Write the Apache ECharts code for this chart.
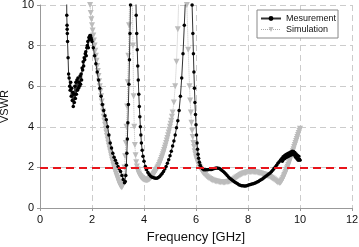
<!DOCTYPE html>
<html>
<head>
<meta charset="utf-8">
<script src="https://cdn.jsdelivr.net/npm/echarts@6/dist/echarts.min.js"></script>
<style>html,body{margin:0;padding:0;background:#fff}#c{width:359px;height:247px}</style>
</head>
<body>
<div id="c"></div>
<script>
// ---- data ----
var xTicks = [0, 2, 4, 6, 8, 10, 12];
var yTicks = [0, 2, 4, 6, 8, 10];
var threshold = 2;
var seriesNames = ['Mesurement', 'Simulation'];

var measFreq = [1.02,1.03,1.04,1.045,1.05,1.06,1.08,1.10,1.12,1.14,1.16,1.18,1.20,1.22,1.24,1.26,1.28,1.30,1.32,1.34,1.36,1.38,1.40,1.42,1.44,1.46,1.48,1.50,1.52,1.54,1.56,1.58,1.60,1.62,1.64,1.66,1.68,1.70,1.72,1.74,1.76,1.78,1.80,1.82,1.84,1.86,1.88,1.90,1.92,1.94,1.96,1.98,2.00,2.05,2.10,2.15,2.20,2.25,2.30,2.35,2.40,2.45,2.50,2.55,2.60,2.65,2.70,2.75,2.80,2.85,2.90,2.95,3.00,3.05,3.10,3.15,3.20,3.25,3.28,3.30,3.32,3.34,3.36,3.38,3.40,3.42,3.44,3.46,3.48,3.50,3.60,3.68,3.70,3.72,3.74,3.76,3.78,3.80,3.82,3.84,3.86,3.88,3.90,3.93,3.96,4.00,4.05,4.10,4.15,4.20,4.25,4.30,4.35,4.40,4.45,4.50,4.55,4.60,4.65,4.70,4.75,4.80,4.85,4.90,4.95,5.00,5.05,5.10,5.15,5.20,5.25,5.30,5.35,5.40,5.45,5.50,5.55,5.60,5.70,5.82,5.85,5.88,5.90,5.92,5.94,5.96,5.98,6.00,6.02,6.04,6.06,6.08,6.10,6.13,6.16,6.20,6.25,6.30,6.35,6.40,6.45,6.50,6.55,6.60,6.65,6.70,6.75,6.80,6.85,6.90,6.95,7.00,7.05,7.10,7.15,7.20,7.25,7.30,7.35,7.40,7.45,7.50,7.55,7.60,7.65,7.70,7.75,7.80,7.85,7.90,7.95,8.00,8.05,8.10,8.15,8.20,8.25,8.30,8.35,8.40,8.45,8.50,8.55,8.60,8.65,8.70,8.75,8.80,8.85,8.90,8.95,9.00,9.05,9.10,9.15,9.20,9.25,9.30,9.32,9.35,9.38,9.40,9.43,9.45,9.48,9.50,9.53,9.55,9.58,9.60,9.63,9.65,9.68,9.70,9.73,9.75,9.78,9.80,9.83,9.85,9.88,9.90,9.93,9.95,9.98,10.00];
var measVswr = [12,9.5,9.0,8.8,8.6,8.2,7.4,6.6,6.4,6.0,5.8,6.2,5.5,5.9,5.3,5.7,5.0,5.6,5.2,6.0,5.4,6.2,5.6,6.3,5.8,6.4,5.9,6.2,6.0,6.5,6.1,6.6,6.3,6.9,6.8,7.2,7.0,7.4,7.3,7.6,7.7,7.5,7.9,8.0,8.2,7.9,8.4,8.3,8.5,8.5,8.4,8.3,8.2,7.9,7.5,7.1,6.7,6.3,5.9,5.5,5.1,4.8,4.55,4.35,4.0,3.6,3.2,2.95,2.7,2.5,2.35,2.2,2.05,1.92,1.8,1.6,1.4,1.25,1.3,1.6,2.1,2.7,3.4,4.2,5.1,6.1,7.3,8.6,10.0,11.5,13,11,9.5,8.6,7.8,7.0,6.3,5.6,5.0,4.5,4.0,3.6,3.2,2.85,2.55,2.3,2.05,1.88,1.75,1.65,1.58,1.53,1.5,1.48,1.47,1.47,1.5,1.55,1.62,1.7,1.8,1.92,2.05,2.2,2.38,2.58,2.8,3.05,3.3,3.6,3.95,4.3,4.8,5.5,6.4,7.6,9.0,10.5,13,11,10.0,8.6,7.6,6.7,5.9,5.2,4.6,4.1,3.6,3.2,2.9,2.65,2.45,2.25,2.1,2.0,1.93,1.89,1.88,1.88,1.89,1.9,1.9,1.9,1.92,1.94,1.96,1.97,1.96,1.94,1.9,1.85,1.8,1.74,1.67,1.6,1.53,1.47,1.42,1.37,1.32,1.27,1.23,1.19,1.15,1.12,1.1,1.09,1.08,1.08,1.1,1.12,1.14,1.16,1.18,1.2,1.22,1.25,1.28,1.31,1.35,1.39,1.43,1.48,1.53,1.58,1.63,1.68,1.73,1.79,1.86,1.94,2.02,2.1,2.2,2.28,2.36,2.44,2.3,2.52,2.4,2.58,2.45,2.62,2.5,2.66,2.52,2.7,2.56,2.72,2.6,2.76,2.62,2.8,2.66,2.78,2.6,2.74,2.5,2.66,2.42,2.6,2.35,2.55,2.4,2.35];

var simFreq = [1.85,1.875,1.90,1.925,1.95,1.975,2.00,2.025,2.05,2.075,2.10,2.125,2.15,2.175,2.20,2.225,2.25,2.275,2.30,2.325,2.35,2.375,2.40,2.425,2.45,2.475,2.50,2.525,2.55,2.575,2.60,2.625,2.65,2.675,2.70,2.725,2.75,2.775,2.80,2.825,2.85,2.875,2.90,2.925,2.95,2.975,3.00,3.025,3.05,3.075,3.10,3.125,3.15,3.175,3.20,3.225,3.25,3.275,3.30,3.325,3.35,3.375,3.40,3.425,3.45,3.50,3.55,3.575,3.60,3.625,3.65,3.675,3.70,3.725,3.75,3.775,3.80,3.825,3.85,3.875,3.90,3.925,3.95,3.975,4.00,4.025,4.05,4.075,4.10,4.125,4.15,4.175,4.20,4.225,4.25,4.275,4.30,4.325,4.35,4.375,4.40,4.425,4.45,4.475,4.50,4.525,4.55,4.575,4.60,4.625,4.65,4.675,4.70,4.725,4.75,4.775,4.80,4.825,4.85,4.875,4.90,4.925,4.95,4.975,5.00,5.025,5.05,5.075,5.10,5.15,5.20,5.25,5.30,5.35,5.40,5.60,5.65,5.70,5.75,5.775,5.80,5.825,5.85,5.875,5.90,5.925,5.95,5.975,6.00,6.025,6.05,6.075,6.10,6.125,6.15,6.175,6.20,6.225,6.25,6.275,6.30,6.35,6.40,6.45,6.50,6.55,6.60,6.65,6.70,6.75,6.80,6.85,6.90,6.95,7.00,7.05,7.10,7.15,7.20,7.25,7.30,7.35,7.40,7.45,7.50,7.55,7.60,7.65,7.70,7.75,7.80,7.85,7.90,7.95,8.00,8.05,8.10,8.15,8.20,8.25,8.30,8.35,8.40,8.45,8.50,8.55,8.60,8.65,8.70,8.75,8.80,8.85,8.90,8.95,9.00,9.05,9.10,9.15,9.20,9.225,9.25,9.275,9.30,9.325,9.35,9.375,9.40,9.425,9.45,9.475,9.50,9.525,9.55,9.575,9.60,9.625,9.65,9.675,9.70,9.725,9.75,9.775,9.80,9.825,9.85,9.875,9.90,9.925,9.95,9.975,10.00];
var simVswr = [12,11.2,10.5,10.0,9.6,9.3,9.0,8.75,8.5,8.25,8.0,7.75,7.5,7.25,7.0,6.75,6.5,6.25,6.0,5.75,5.5,5.25,5.0,4.75,4.5,4.3,4.1,3.9,3.72,3.55,3.38,3.22,3.07,2.92,2.78,2.64,2.5,2.37,2.25,2.12,2.0,1.89,1.78,1.68,1.58,1.49,1.4,1.31,1.22,1.15,1.08,1.04,1.02,1.08,1.25,1.55,2.0,2.55,3.2,4.0,5.0,6.2,7.5,9.0,10.5,13,11,8.0,5.5,4.0,3.1,2.6,2.25,2.05,1.9,1.8,1.7,1.64,1.58,1.54,1.5,1.47,1.44,1.42,1.4,1.39,1.38,1.375,1.37,1.375,1.38,1.4,1.42,1.45,1.48,1.51,1.55,1.59,1.63,1.67,1.72,1.77,1.82,1.87,1.93,1.99,2.05,2.12,2.2,2.28,2.37,2.46,2.55,2.65,2.75,2.86,2.97,3.08,3.2,3.32,3.45,3.58,3.72,3.86,4.0,4.15,4.3,4.5,4.7,5.2,6.0,7.2,8.8,10.8,13,13,10.0,7.8,6.0,5.3,4.7,4.2,3.8,3.5,3.2,3.0,2.8,2.65,2.5,2.4,2.3,2.2,2.12,2.06,2.0,1.94,1.88,1.83,1.78,1.74,1.7,1.63,1.57,1.52,1.47,1.43,1.39,1.36,1.34,1.32,1.3,1.29,1.28,1.27,1.27,1.26,1.26,1.27,1.28,1.29,1.31,1.34,1.37,1.41,1.45,1.5,1.54,1.58,1.62,1.66,1.69,1.71,1.73,1.75,1.76,1.77,1.77,1.77,1.77,1.77,1.76,1.75,1.74,1.72,1.7,1.68,1.66,1.64,1.62,1.59,1.56,1.53,1.49,1.45,1.4,1.35,1.3,1.26,1.24,1.24,1.26,1.3,1.35,1.41,1.48,1.55,1.62,1.7,1.78,1.86,1.95,2.03,2.12,2.21,2.3,2.4,2.5,2.6,2.7,2.8,2.9,3.0,3.1,3.2,3.3,3.4,3.5,3.6,3.7,3.8,3.9];

// ---- chart ----
function pairs(xs, ys) { return xs.map(function (x, i) { return [x, ys[i]]; }); }

var chart = echarts.init(document.getElementById('c'), null, { renderer: 'canvas' });
var font = 'Liberation Sans, Arial, sans-serif';
chart.setOption({
  animation: false,
  backgroundColor: '#fff',
  textStyle: { fontFamily: font },
  grid: { left: 40, right: 7, top: 5, bottom: 39, containLabel: false, outerBoundsMode: 'none' },
  legend: {
    left: 257, top: 10, orient: 'vertical',
    backgroundColor: '#fff', borderColor: '#888', borderWidth: 1,
    padding: [4, 2, 4, 3], itemGap: 2, itemWidth: 20, itemHeight: 6,
    textStyle: { fontSize: 9, color: '#111', fontFamily: font },
    data: [
      { name: seriesNames[0] },
      { name: seriesNames[1], lineStyle: { type: 'dotted', width: 1, color: '#aaa' } }
    ]
  },
  xAxis: {
    type: 'value', min: xTicks[0], max: xTicks[xTicks.length - 1], interval: 2,
    name: 'Frequency [GHz]', nameLocation: 'middle', nameGap: 23,
    nameTextStyle: { fontSize: 13, color: '#111', fontFamily: font },
    axisLine: { lineStyle: { color: '#999', width: 1 } },
    axisTick: { show: true, length: 3, inside: false, lineStyle: { color: '#999' } },
    axisLabel: { fontSize: 11, color: '#111', margin: 6, fontFamily: font },
    splitLine: { show: true, lineStyle: { color: '#ccc', type: [6, 4], width: 1 } }
  },
  yAxis: {
    type: 'value', min: yTicks[0], max: yTicks[yTicks.length - 1], interval: 2,
    name: 'VSWR', nameLocation: 'middle', nameGap: 23, nameRotate: 90,
    nameTextStyle: { fontSize: 11, color: '#111', fontFamily: font },
    axisLine: { show: true, lineStyle: { color: '#999', width: 1 } },
    axisTick: { show: true, length: 3, lineStyle: { color: '#999' } },
    axisLabel: { fontSize: 11, color: '#111', margin: 6, fontFamily: font },
    splitLine: { show: true, lineStyle: { color: '#ccc', type: [6, 4], width: 1 } }
  },
  series: [
    {
      name: seriesNames[1], type: 'line', clip: true, z: 2,
      data: pairs(simFreq, simVswr),
      symbol: 'triangle', symbolRotate: 180, symbolSize: 6, showAllSymbol: true,
      lineStyle: { color: '#c0c0c0', width: 1, type: 'dotted' },
      itemStyle: { color: '#bcbcbc' }
    },
    {
      name: seriesNames[0], type: 'line', clip: true, z: 3,
      data: pairs(measFreq, measVswr),
      symbol: 'circle', symbolSize: 3.5, showAllSymbol: true,
      lineStyle: { color: '#333', width: 1 },
      itemStyle: { color: '#000' },
      markLine: {
        silent: true, symbol: 'none', label: { show: false },
        lineStyle: { color: '#e8141b', type: [8, 5], width: 2 },
        data: [{ yAxis: threshold }]
      }
    }
  ]
});
</script>
</body>
</html>
